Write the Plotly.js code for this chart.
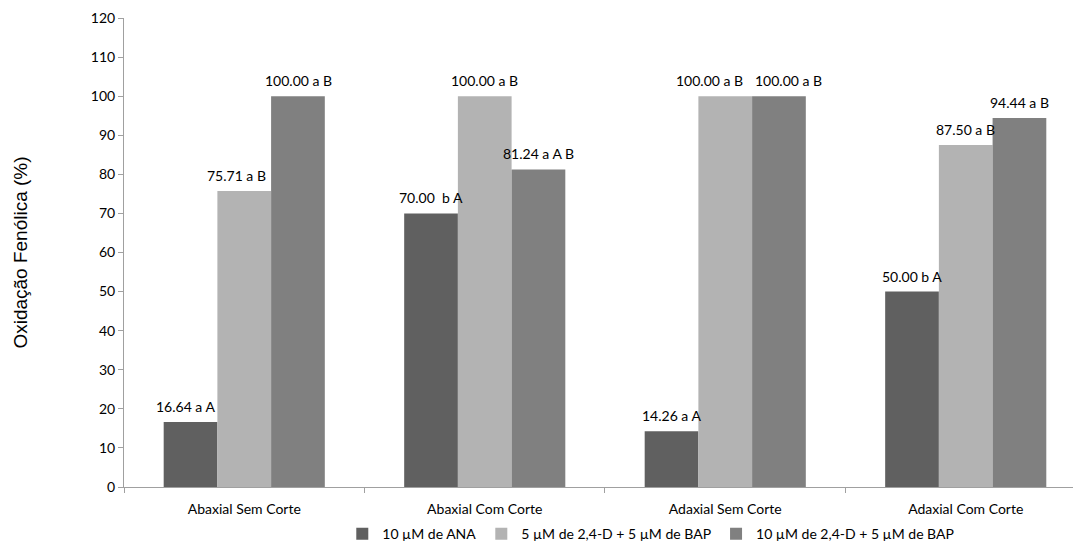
<!DOCTYPE html>
<html>
<head>
<meta charset="utf-8">
<script src="https://cdn.plot.ly/plotly-3.0.1.min.js"></script>
<style>html,body{margin:0;padding:0;background:#fff;}#chart{width:1073px;height:544px;}</style>
</head>
<body>
<div id="chart"></div>
<script>
const categories = ["Abaxial Sem Corte", "Abaxial Com Corte", "Adaxial Sem Corte", "Adaxial Com Corte"];
const seriesNames = ["10 µM de ANA", "5 µM de 2,4-D + 5 µM de BAP", "10 µM de 2,4-D + 5 µM de BAP"];
const anaValues = [16.64, 70.00, 14.26, 50.00];
const dBap5Values = [75.71, 100.00, 100.00, 87.50];
const dBap10Values = [100.00, 81.24, 100.00, 94.44];
const anaLabels = ["16.64 a A", "70.00  b A", "14.26 a A", "50.00 b A"];
const dBap5Labels = ["75.71 a B", "100.00 a B", "100.00 a B", "87.50 a B"];
const dBap10Labels = ["100.00 a B", "81.24 a A B", "100.00 a B", "94.44 a B"];
const yTitle = "Oxidação Fenólica (%)";

const colors = ["#606060", "#b3b3b3", "#808080"];
const values = [anaValues, dBap5Values, dBap10Values];
const labels = [anaLabels, dBap5Labels, dBap10Labels];
const labelFont = {family: "Lato, 'Open Sans', sans-serif", size: 14, color: "#000"};

// pixel offsets of each series' bar centre from the category centre, and
// small label nudges (the reference spreads the two touching labels apart)
const barShift = [-54, 0, 54];
const labelNudge = [[-5, -8, 0], [0, 0, 0], [0, -16, 9], [0, 0, 0]];

const traces = values.map((v, i) => ({
  type: "bar",
  name: seriesNames[i],
  x: categories,
  y: v,
  marker: {color: colors[i]},
  hoverinfo: "none"
}));

const annotations = [];
values.forEach((v, i) => {
  v.forEach((val, j) => {
    annotations.push({
      x: categories[j], y: val, xref: "x", yref: "y",
      text: labels[i][j], showarrow: false,
      xanchor: "center", yanchor: "bottom",
      xshift: barShift[i] + labelNudge[j][i], yshift: 5,
      font: labelFont
    });
  });
});

const layout = {
  width: 1073, height: 544,
  margin: {l: 124, r: 0, t: 18, b: 57},
  paper_bgcolor: "#fff", plot_bgcolor: "#fff",
  barmode: "group", bargap: 0.33, bargroupgap: 0,
  showlegend: true,
  legend: {orientation: "h", xref: "container", yref: "container",
           x: 0.319, xanchor: "left", y: 0.018, yanchor: "middle",
           font: labelFont, traceorder: "normal", itemwidth: 30},
  annotations: annotations,
  xaxis: {
    type: "category", range: [-0.5, 3.446], tickson: "boundaries",
    showline: true, linecolor: "#a0a0a0", linewidth: 1,
    ticks: "outside", ticklen: 5, tickcolor: "#a0a0a0",
    ticklabelstandoff: 9, automargin: false,
    tickfont: labelFont, showgrid: false, zeroline: false, fixedrange: true
  },
  yaxis: {
    range: [0, 120], dtick: 10, tick0: 0,
    showline: true, linecolor: "#a0a0a0", linewidth: 1,
    ticks: "outside", ticklen: 5, tickcolor: "#a0a0a0",
    tickfont: labelFont, showgrid: false, zeroline: false, automargin: false,
    title: {text: yTitle, font: {family: "'Liberation Sans', Arial, sans-serif", size: 19, color: "#000"}, standoff: 58},
    fixedrange: true
  }
};

Plotly.newPlot("chart", traces, layout, {displayModeBar: false, staticPlot: true});
</script>
</body>
</html>
